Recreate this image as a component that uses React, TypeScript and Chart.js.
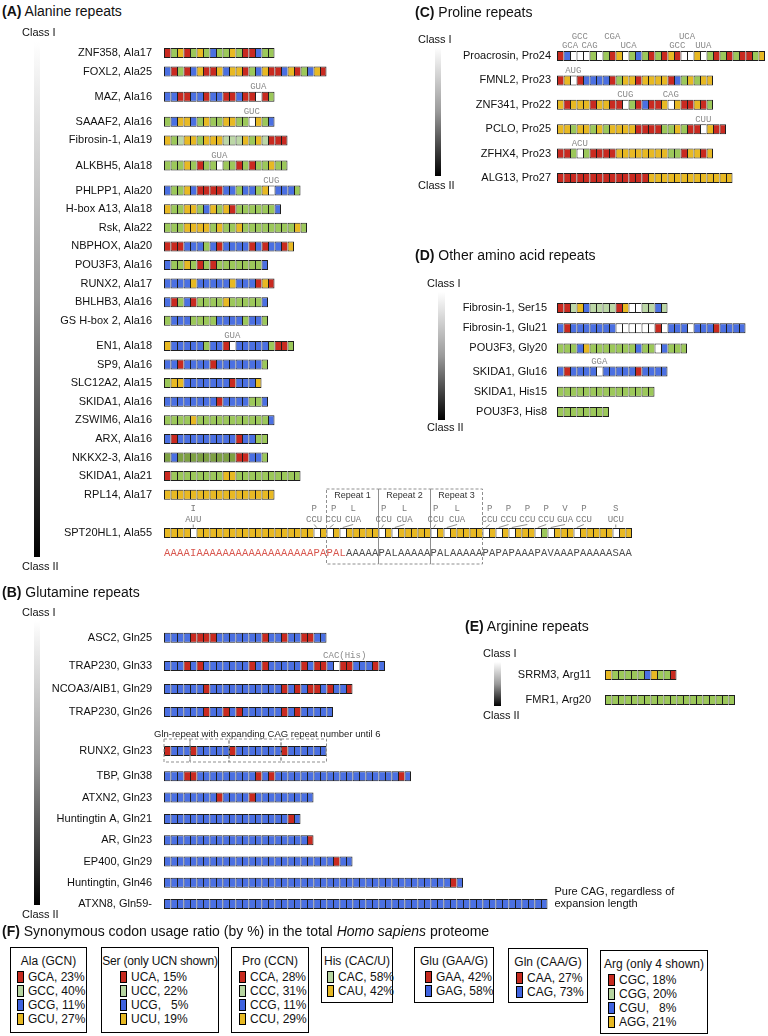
import React, { useEffect, useRef } from 'react';
import { Chart, registerables } from 'chart.js';

Chart.register(...registerables);

const SANS = '"Liberation Sans", Arial, Helvetica, sans-serif';
const MONO = '"Liberation Mono", "Courier New", monospace';
const CELL = 6.5;

const COLORS: Record<string, string> = {
  R: '#c92a20', g: '#9cc85a', p: '#bcd7a6', d: '#7ea143', B: '#4b70e2', Y: '#e8b923', W: '#ffffff',
};
const LEGEND_COLORS: Record<string, string> = { R: '#c62a1f', g: '#b7d5a0', B: '#3f63e0', Y: '#e6b822' };

// ---------------- Panel A: alanine repeats ----------------
const A_LABELS = [
  'ZNF358, Ala17', 'FOXL2, Ala25', 'MAZ, Ala16', 'SAAAF2, Ala16', 'Fibrosin-1, Ala19', 'ALKBH5, Ala18',
  'PHLPP1, Ala20', 'H-box A13, Ala18', 'Rsk, Ala22', 'NBPHOX, Ala20', 'POU3F3, Ala16', 'RUNX2, Ala17',
  'BHLHB3, Ala16', 'GS H-box 2, Ala16', 'EN1, Ala18', 'SP9, Ala16', 'SLC12A2, Ala15', 'SKIDA1, Ala16',
  'ZSWIM6, Ala16', 'ARX, Ala16', 'NKKX2-3, Ala16', 'SKIDA1, Ala21', 'RPL14, Ala17', 'SPT20HL1, Ala55',
];
const SPT_CODONS =
  'YYYYW' + 'YYYYYYYYYYYYYYYYYY' + 'WYWYW' + 'YYYYY' + 'WYW' + 'YYYYY' + 'WYW' + 'YYYYY' +
  'WYWYW' + 'YYY' + 'WgW' + 'YYY' + 'W' + 'YYYYY' + 'W' + 'YY';
const A_CODONS = [
  'RgYRgYgBggYgRRBgg',
  'BRgRBYRRYBYYRgBYRRBYRgBYR',
  'BBRRBBRBBRRBRRWRg',
  'gBYYBgYggYYggWYgB',
  'YgpYYgYYYpppYgYpRRR',
  'gggYgRggWggRgRggYgg',
  'BggYBRRRRBBgBBgYWBBBg',
  'YggYYgBYgYRggggggB',
  'gggYYYYgYggYggggggggYg',
  'RRRBBBgBRBBBBRBRBBRY',
  'BggYgRgRgggggggB',
  'BBBBYBBBBBYBBBRYR',
  'BRgBRggggYgggggB',
  'gBBBggggBBBBgBBg',
  'YBBBBBgBBRWBBBBBgRRg',
  'BBRBBBBRBBBBBBBg',
  'gYYBBBBBBBRBBBY',
  'BBBBBBBBRBBBBggB',
  'ggggYgggggggggggB',
  'BRBBBBBBBBBRBBgg',
  'dBdddddddddRRBBg',
  'RggggggggYYgggggggggg',
  'YYYYYYYYYYYYYYYYY',
  SPT_CODONS,
];
const A_NOTES = [
  { row: 2, pos: 14, text: 'GUA' },
  { row: 3, pos: 13, text: 'GUC' },
  { row: 5, pos: 8, text: 'GUA' },
  { row: 6, pos: 16, text: 'CUG' },
  { row: 14, pos: 10, text: 'GUA' },
];
// SPT20HL1 amino-acid sequence under the bar
const SPT_AA =
  'AAAA' + 'I' + 'AAAAAAAAAAAAAAAAAA' + 'PAPAL' + 'AAAAA' + 'PAL' + 'AAAAA' + 'PAL' + 'AAAAA' +
  'PAPAPAAAPAVAAAPAAAAASAA';
const SPT_RED_COUNT = 28;
// [cell index, amino acid, codon, label position (cells)]
const SPT_MARKS: [number, string, string, number][] = [
  [4, 'I', 'AUU', 4], [23, 'P', 'CCU', 22.6], [25, 'P', 'CCU', 25.6], [27, 'L', 'CUA', 28.6],
  [33, 'P', 'CCU', 33.3], [35, 'L', 'CUA', 36.5], [41, 'P', 'CCU', 41.3], [43, 'L', 'CUA', 44.6],
  [49, 'P', 'CCU', 49.6], [51, 'P', 'CCU', 52.5], [53, 'P', 'CCU', 55.4], [57, 'P', 'CCU', 58.3],
  [59, 'V', 'GUA', 61.2], [63, 'P', 'CCU', 64.1], [69, 'S', 'UCU', 69],
];
const SPT_REPEATS: [number, number][] = [[25, 33], [33, 41], [41, 49]];
const SPT_REPEAT_NAMES = ['Repeat 1', 'Repeat 2', 'Repeat 3'];

// ---------------- Panel B: glutamine repeats ----------------
const B_LABELS = [
  'ASC2, Gln25', 'TRAP230, Gln33', 'NCOA3/AIB1, Gln29', 'TRAP230, Gln26', 'RUNX2, Gln23', 'TBP, Gln38',
  'ATXN2, Gln23', 'Huntingtin A, Gln21', 'AR, Gln23', 'EP400, Gln29', 'Huntingtin, Gln46', 'ATXN8, Gln59-',
];
const B_CODONS = [
  'BBBBRRRRBBBBBBBRBBRBBRRBB',
  'BBBRBRBBBBBBBRBRBBBBBRBRRB' + 'W' + 'RRBBBRB',
  'BBBBBBRBBBBBBBBBBBRBRBRRBRBBR',
  'BBBBBBRBBRBRBBBBBBRBRBBBBB',
  'RBBB' + 'RBBBBB' + 'RBBBBBBB' + 'RBBBBBB',
  'BBBRR' + 'BBBBBBBBB' + 'RBR' + 'BBBBBBBBBB' + 'BBBBBBBBB' + 'RB',
  'BBBBBBBBRBBBBRBBBBBBBBB',
  'BBBBBBBBBBBBBBBBBBBRB',
  'BBBBBBBBBBBBBBBBBBBBBBR',
  'BBBBBBBBBBBBBBBBBBBBBBBBBBRBB',
  'BBBBBBBBBB' + 'BBBBBBBBBB' + 'BBBBBBBBBB' + 'BBBBBBBBBB' + 'BBBB' + 'RB',
  'BBBBBBBBBB' + 'BBBBBBBBBB' + 'BBBBBBBBBB' + 'BBBBBBBBBB' + 'BBBBBBBBBB' + 'BBBBBBBBB',
];
const B_NOTES = [{ row: 1, pos: 27.3, text: 'CAC(His)' }];
const RUNX2_GROUPS = [0, 4, 10, 18, 25];
const RUNX2_NOTE = 'Gln-repeat with expanding CAG repeat number until 6';
const ATXN8_NOTE = ['Pure CAG, regardless of', 'expansion length'];

// ---------------- Panel C: proline repeats ----------------
const C_LABELS = ['Proacrosin, Pro24', 'FMNL2, Pro23', 'ZNF341, Pro22', 'PCLO, Pro25', 'ZFHX4, Pro23', 'ALG13, Pro27'];
const C_CODONS = [
  'RBWWWgWgRYWgBgRgRYRWWYWgRgRgRRgY',
  'RYWRBBBBRgYYRYYYYRBgYgYY',
  'YRYYYRYYRRWgRBRRYWYRRYRg',
  'YYgYYgYgYYYYRRRRggYgRRWYRR',
  'RRgWgRRRRYYYYYYYYggRYYRY',
  'RRRRRRRRRRRRRRYYYYYYYYYYYYY',
];
const C_NOTES = [
  { row: 0, pos: 1.5, text: 'GCA', level: 0 }, { row: 0, pos: 3, text: 'GCC', level: 1 },
  { row: 0, pos: 4.5, text: 'CAG', level: 0 }, { row: 0, pos: 8, text: 'CGA', level: 1 },
  { row: 0, pos: 10.5, text: 'UCA', level: 0 }, { row: 0, pos: 18, text: 'GCC', level: 0 },
  { row: 0, pos: 19.5, text: 'UCA', level: 1 }, { row: 0, pos: 22, text: 'UUA', level: 0 },
  { row: 1, pos: 2, text: 'AUG' }, { row: 2, pos: 10, text: 'CUG' }, { row: 2, pos: 17, text: 'CAG' },
  { row: 3, pos: 22, text: 'CUU' }, { row: 4, pos: 3, text: 'ACU' },
];

// ---------------- Panel D: other amino acid repeats ----------------
const D_LABELS = ['Fibrosin-1, Ser15', 'Fibrosin-1, Glu21', 'POU3F3, Gly20', 'SKIDA1, Glu16', 'SKIDA1, His15', 'POU3F3, His8'];
const D_CODONS = [
  'RRpYBppppRYWWppBp',
  'BRBBBBBBBWWWWWWRWBBBWBBBRBBBB',
  'gggBYgggggggBggWBggg',
  'BRBBBBWBBBBBRBBBB',
  'ggggggggggggggg',
  'gggggggg',
];
const D_NOTES = [{ row: 3, pos: 6, text: 'GGA' }];

// ---------------- Panel E: arginine repeats ----------------
const E_LABELS = ['SRRM3, Arg11', 'FMR1, Arg20'];
const E_CODONS = ['YgggggBYggR', 'gggggggggggggggggggg'];

// ---------------- Panel F: codon usage legend ----------------
const F_TITLES = ['Ala (GCN)', 'Ser (only UCN shown)', 'Pro (CCN)', 'His (CAC/U)', 'Glu (GAA/G)', 'Gln (CAA/G)', 'Arg (only 4 shown)'];
const F_ITEMS: [string, string][][] = [
  [['R', 'GCA, 23%'], ['g', 'GCC, 40%'], ['B', 'GCG, 11%'], ['Y', 'GCU, 27%']],
  [['R', 'UCA, 15%'], ['g', 'UCC, 22%'], ['B', 'UCG,   5%'], ['Y', 'UCU, 19%']],
  [['R', 'CCA, 28%'], ['g', 'CCC, 31%'], ['B', 'CCG, 11%'], ['Y', 'CCU, 29%']],
  [['g', 'CAC, 58%'], ['Y', 'CAU, 42%']],
  [['R', 'GAA, 42%'], ['B', 'GAG, 58%']],
  [['R', 'CAA, 27%'], ['B', 'CAG, 73%']],
  [['R', 'CGC, 18%'], ['g', 'CGG, 20%'], ['B', 'CGU,   8%'], ['Y', 'AGG, 21%']],
];

// ---------------- layout ----------------
function stackRows(first: number, unit: number, extra: number[]) {
  const out: number[] = [];
  let y = first;
  extra.forEach((e, i) => {
    if (i > 0) y += unit + e;
    out.push(y);
  });
  return out;
}
const A_ROWS = stackRows(53, 18.6, [0, 0, 6.5, 6.5, 0, 6.5, 6.5, 0, 0, 0, 0, 0, 0, 0, 6.5, 0, 0, 0, 0, 0, 0, 0, 0, 19.7]);
const B_ROWS = stackRows(637.7, 21.3, [0, 7, 1.7, 1.7, 17.7, 4, 0, 0, 0, 0, 0, 0]);
const C_ROWS = stackRows(56, 24.4, [0, 0, 0, 0, 0, 0]);
const D_ROWS = stackRows(308, 20.2, [0, 0, 0, 3, 0, 0]);
const E_ROWS = stackRows(675, 25, [0, 0]);

function drawSpt(ctx: any, xs: any, ys: any, spec: any) {
  const yRow = ys.getPixelForValue(spec.rowY[23] - spec.top);
  const cx = (i: number) => xs.getPixelForValue(i + 0.5);
  ctx.save();
  ctx.strokeStyle = '#8f8f8f';
  ctx.lineWidth = 1;
  ctx.setLineDash([3, 2]);
  SPT_REPEATS.forEach(([a, b]) => {
    const x0 = xs.getPixelForValue(a);
    const x1 = xs.getPixelForValue(b);
    ctx.strokeRect(x0, yRow - 44, x1 - x0, 75);
  });
  ctx.setLineDash([]);
  ctx.textAlign = 'center';
  ctx.textBaseline = 'middle';
  ctx.font = `9px ${SANS}`;
  ctx.fillStyle = '#333';
  SPT_REPEATS.forEach(([a, b], k) => {
    const x0 = xs.getPixelForValue(a);
    const x1 = xs.getPixelForValue(b);
    ctx.fillText(SPT_REPEAT_NAMES[k], (x0 + x1) / 2, yRow - 37);
  });
  ctx.font = `9px ${MONO}`;
  ctx.fillStyle = '#7b7b7b';
  ctx.strokeStyle = '#8f8f8f';
  SPT_MARKS.forEach(([i, aa, codon, lp]) => {
    const lx = cx(lp);
    ctx.fillText(aa, lx, yRow - 24);
    ctx.fillText(codon, lx, yRow - 13);
    ctx.beginPath();
    ctx.moveTo(lx, yRow - 8.5);
    ctx.lineTo(cx(i), yRow - 5.5);
    ctx.stroke();
  });
  ctx.font = `10.5px ${MONO}`;
  for (let i = 0; i < SPT_AA.length; i++) {
    ctx.fillStyle = i < SPT_RED_COUNT ? '#d8564e' : '#4a4a4a';
    ctx.fillText(SPT_AA[i], cx(i), yRow + 20);
  }
  ctx.restore();
}

function drawB(ctx: any, xs: any, ys: any, spec: any) {
  const yR = ys.getPixelForValue(spec.rowY[4] - spec.top);
  ctx.save();
  ctx.textBaseline = 'middle';
  ctx.textAlign = 'left';
  ctx.font = `9.5px ${SANS}`;
  ctx.fillStyle = '#222';
  ctx.fillText(RUNX2_NOTE, xs.getPixelForValue(0) - 10, yR - 16.5);
  ctx.strokeStyle = '#8f8f8f';
  ctx.lineWidth = 1;
  ctx.setLineDash([3, 2]);
  for (let k = 0; k < RUNX2_GROUPS.length - 1; k++) {
    const x0 = xs.getPixelForValue(RUNX2_GROUPS[k]);
    const x1 = xs.getPixelForValue(RUNX2_GROUPS[k + 1]);
    ctx.strokeRect(x0, yR - 12, x1 - x0, 23);
  }
  ctx.setLineDash([]);
  const yA = ys.getPixelForValue(spec.rowY[11] - spec.top);
  const xe = xs.getPixelForValue(B_CODONS[11].length) + 7;
  ctx.font = `11px ${SANS}`;
  ctx.fillStyle = '#111';
  ctx.fillText(ATXN8_NOTE[0], xe, yA - 12);
  ctx.fillText(ATXN8_NOTE[1], xe, yA);
  ctx.restore();
}

const PANELS: any[] = [
  { key: 'A', left: 0, top: 30, width: 768, height: 550, barLeft: 164, labelPad: 12, labels: A_LABELS, codons: A_CODONS, rowY: A_ROWS, notes: A_NOTES, extra: drawSpt },
  { key: 'B', left: 0, top: 600, width: 768, height: 325, barLeft: 164, labelPad: 12, labels: B_LABELS, codons: B_CODONS, rowY: B_ROWS, notes: B_NOTES, extra: drawB },
  { key: 'C', left: 400, top: 22, width: 368, height: 176, barLeft: 557, labelPad: 6, labels: C_LABELS, codons: C_CODONS, rowY: C_ROWS, notes: C_NOTES },
  { key: 'D', left: 400, top: 292, width: 368, height: 132, barLeft: 557, labelPad: 10, labels: D_LABELS, codons: D_CODONS, rowY: D_ROWS, notes: D_NOTES },
  { key: 'E', left: 440, top: 655, width: 328, height: 60, barLeft: 605, labelPad: 14, labels: E_LABELS, codons: E_CODONS, rowY: E_ROWS, notes: [] },
];

function buildConfig(spec: any): any {
  const data: any[] = [];
  const bg: string[] = [];
  const last: boolean[] = [];
  spec.codons.forEach((seq: string, r: number) => {
    const y = spec.rowY[r] - spec.top;
    for (let i = 0; i < seq.length; i++) {
      data.push({ x: [i, i + 1], y });
      bg.push(COLORS[seq[i]]);
      last.push(i === seq.length - 1);
    }
  });
  const tickVals: number[] = spec.rowY.map((v: number) => v - spec.top);
  const names = new Map<number, string>(tickVals.map((v, i) => [v, spec.labels[i]]));
  const axisWidth = spec.barLeft - spec.left;
  const notesPlugin = {
    id: 'codonNotes' + spec.key,
    afterDatasetsDraw(chart: any) {
      const xs = chart.scales.x;
      const ys = chart.scales.y;
      const ctx = chart.ctx;
      ctx.save();
      ctx.font = `9px ${MONO}`;
      ctx.fillStyle = '#8a8a8a';
      ctx.textAlign = 'center';
      ctx.textBaseline = 'middle';
      spec.notes.forEach((n: any) => {
        const x = xs.getPixelForValue(n.pos + 0.5);
        const y = ys.getPixelForValue(spec.rowY[n.row] - spec.top) - (n.level ? 19 : 10);
        ctx.fillText(n.text, x, y);
      });
      ctx.restore();
      if (spec.extra) spec.extra(ctx, xs, ys, spec);
    },
  };
  return {
    type: 'bar',
    data: {
      datasets: [{
        data,
        backgroundColor: bg,
        borderColor: '#1e1e1e',
        borderWidth: (c: any) => ({ top: 1, bottom: 1, left: 1, right: last[c.dataIndex] ? 1 : 0 }),
        borderSkipped: false,
        barThickness: 10,
        inflateAmount: 0,
      }],
    },
    options: {
      indexAxis: 'y',
      animation: false,
      responsive: false,
      events: [],
      layout: { padding: 0 },
      plugins: { legend: { display: false }, tooltip: { enabled: false }, title: { display: false } },
      scales: {
        x: { type: 'linear', display: false, offset: false, min: 0, max: (spec.width - axisWidth) / CELL },
        y: {
          type: 'linear',
          offset: false,
          min: 0,
          max: spec.height,
          reverse: true,
          afterBuildTicks: (s: any) => { s.ticks = tickVals.map((v) => ({ value: v })); },
          afterFit: (s: any) => { s.width = axisWidth; s.paddingTop = 0; s.paddingBottom = 0; },
          ticks: {
            autoSkip: false,
            padding: spec.labelPad,
            color: '#111',
            font: { family: 'Liberation Sans', size: 11 },
            callback: (v: number) => names.get(v) ?? '',
          },
          grid: { display: false, drawTicks: false, offset: false },
          border: { display: false },
        },
      },
    },
    plugins: [notesPlugin],
  };
}

function PanelChart({ spec }: { spec: any }) {
  const ref = useRef<HTMLCanvasElement | null>(null);
  useEffect(() => {
    if (!ref.current) return;
    const chart = new Chart(ref.current, buildConfig(spec));
    return () => chart.destroy();
  }, [spec]);
  return (
    <canvas
      ref={ref}
      width={spec.width}
      height={spec.height}
      style={{ position: 'absolute', left: spec.left, top: spec.top, width: spec.width, height: spec.height }}
    />
  );
}

function Txt({ x, y, size = 11, children }: any) {
  return (
    <div style={{ position: 'absolute', left: x, top: y, fontSize: size, lineHeight: 1, whiteSpace: 'nowrap' }}>
      {children}
    </div>
  );
}

function Grad({ x, y, w, h }: any) {
  return (
    <div style={{ position: 'absolute', left: x, top: y, width: w, height: h, background: 'linear-gradient(to bottom, #ffffff 0%, #9a9a9a 50%, #000000 100%)' }} />
  );
}

const LEG_BOXES = [[10, 947, 77, 86], [101, 947, 118, 86], [231, 947, 78, 86], [321, 947, 72, 56], [414, 947, 80, 56], [508, 948, 80, 55], [600, 950, 108, 84]];
const LEG_PAD = [6, 18, 7, 5, 10, 7, 7];

function Legend() {
  return (
    <>
      {F_TITLES.map((t, k) => {
        const [x, y, w, h] = LEG_BOXES[k];
        return (
          <div key={t} style={{ position: 'absolute', left: x, top: y, width: w, height: h, border: '1.5px solid #000', boxSizing: 'border-box', fontSize: 12 }}>
            <div style={{ textAlign: 'center', lineHeight: '14px', marginTop: 6, whiteSpace: 'nowrap', letterSpacing: k === 1 ? -0.2 : 0 }}>{t}</div>
            <div style={{ marginTop: 2 }}>
              {F_ITEMS[k].map(([c, label]) => (
                <div key={label} style={{ height: 14, lineHeight: '14px', display: 'flex', alignItems: 'center', paddingLeft: LEG_PAD[k], whiteSpace: 'pre' }}>
                  <span style={{ display: 'inline-block', flexShrink: 0, width: 5, height: 10, border: '1px solid #000', background: LEGEND_COLORS[c], marginRight: 4 }} />
                  {label}
                </div>
              ))}
            </div>
          </div>
        );
      })}
    </>
  );
}

export default function App() {
  return (
    <div style={{ position: 'absolute', left: 0, top: 0, width: 768, height: 1036, background: '#fff', overflow: 'hidden', fontFamily: SANS, color: '#111' }}>
      {PANELS.map((p) => <PanelChart key={p.key} spec={p} />)}

      <Txt x={2} y={4} size={14}><b>(A)</b> Alanine repeats</Txt>
      <Txt x={22} y={27}>Class I</Txt>
      <Grad x={34} y={42} w={6} h={515} />
      <Txt x={22} y={561}>Class II</Txt>

      <Txt x={2} y={585} size={14}><b>(B)</b> Glutamine repeats</Txt>
      <Txt x={22} y={607}>Class I</Txt>
      <Grad x={34} y={621} w={6} h={284} />
      <Txt x={22} y={909}>Class II</Txt>

      <Txt x={415} y={5} size={14}><b>(C)</b> Proline repeats</Txt>
      <Txt x={418} y={34}>Class I</Txt>
      <Grad x={435} y={47} w={6} h={129} />
      <Txt x={418} y={180}>Class II</Txt>

      <Txt x={415} y={248} size={14}><b>(D)</b> Other amino acid repeats</Txt>
      <Txt x={427} y={278}>Class I</Txt>
      <Grad x={438} y={292} w={7} h={128} />
      <Txt x={427} y={422}>Class II</Txt>

      <Txt x={465} y={619} size={14}><b>(E)</b> Arginine repeats</Txt>
      <Txt x={483} y={648}>Class I</Txt>
      <Grad x={494} y={662} w={7} h={44} />
      <Txt x={483} y={710}>Class II</Txt>

      <Txt x={2} y={924} size={14}><b>(F)</b> Synonymous codon usage ratio (by %) in the total <i>Homo sapiens</i> proteome</Txt>
      <Legend />
    </div>
  );
}
